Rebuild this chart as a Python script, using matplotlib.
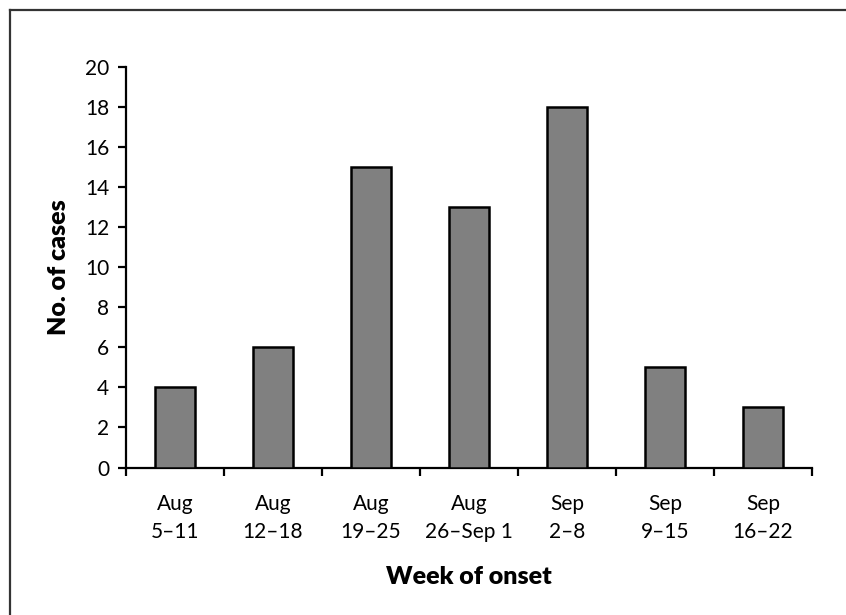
import matplotlib
matplotlib.use("Agg")
import matplotlib.pyplot as plt
from matplotlib.lines import Line2D

# Data
weeks = ["Aug\n5\u201311", "Aug\n12\u201318", "Aug\n19\u201325", "Aug\n26\u2013Sep 1",
         "Sep\n2\u20138", "Sep\n9\u201315", "Sep\n16\u201322"]
cases = [4, 6, 15, 13, 18, 5, 3]
y_ticks = list(range(0, 21, 2))

plt.rcParams["font.family"] = ["Lato", "DejaVu Sans"]

fig = plt.figure(figsize=(8.46, 6.15), dpi=100)
ax = fig.add_axes([126 / 846, 1 - 467.5 / 615, 686 / 846, 400.8 / 615])

x = range(len(cases))
ax.bar(x, cases, width=0.41, color="#808080", edgecolor="black", linewidth=1.8, zorder=3)

ax.set_xlim(-0.5, len(cases) - 0.5)
ax.set_ylim(0, 20)

# major ticks at the boundaries, labels on minor ticks at the centres
ax.set_xticks([i - 0.5 for i in range(len(cases) + 1)])
ax.set_xticklabels([])
ax.set_xticks(list(x), minor=True)
ax.set_xticklabels(weeks, minor=True, fontsize=15, linespacing=1.5)
ax.tick_params(axis="x", which="major", direction="out", length=6, width=1.6)
ax.tick_params(axis="x", which="minor", length=0, pad=19)

ax.set_yticks(y_ticks)
ax.tick_params(axis="y", direction="out", length=6, width=1.6, labelsize=15, pad=6)

for side in ["top", "right"]:
    ax.spines[side].set_visible(False)
for side in ["left", "bottom"]:
    ax.spines[side].set_linewidth(1.6)

ax.set_ylabel("No. of cases", fontsize=18, fontweight="heavy")
ax.yaxis.set_label_coords(-0.082, 0.5)
ax.set_xlabel("Week of onset", fontsize=18, fontweight="heavy", va="center")
ax.xaxis.set_label_coords(0.5, -0.273)

# outer frame (only the top and left edges show)
fig.add_artist(Line2D([10 / 846, 1], [1 - 10 / 615, 1 - 10 / 615], transform=fig.transFigure,
                      color="#333333", linewidth=1.6))
fig.add_artist(Line2D([10 / 846, 10 / 846], [0, 1 - 10 / 615], transform=fig.transFigure,
                      color="#333333", linewidth=1.6))

fig.savefig("out.png", dpi=100)
